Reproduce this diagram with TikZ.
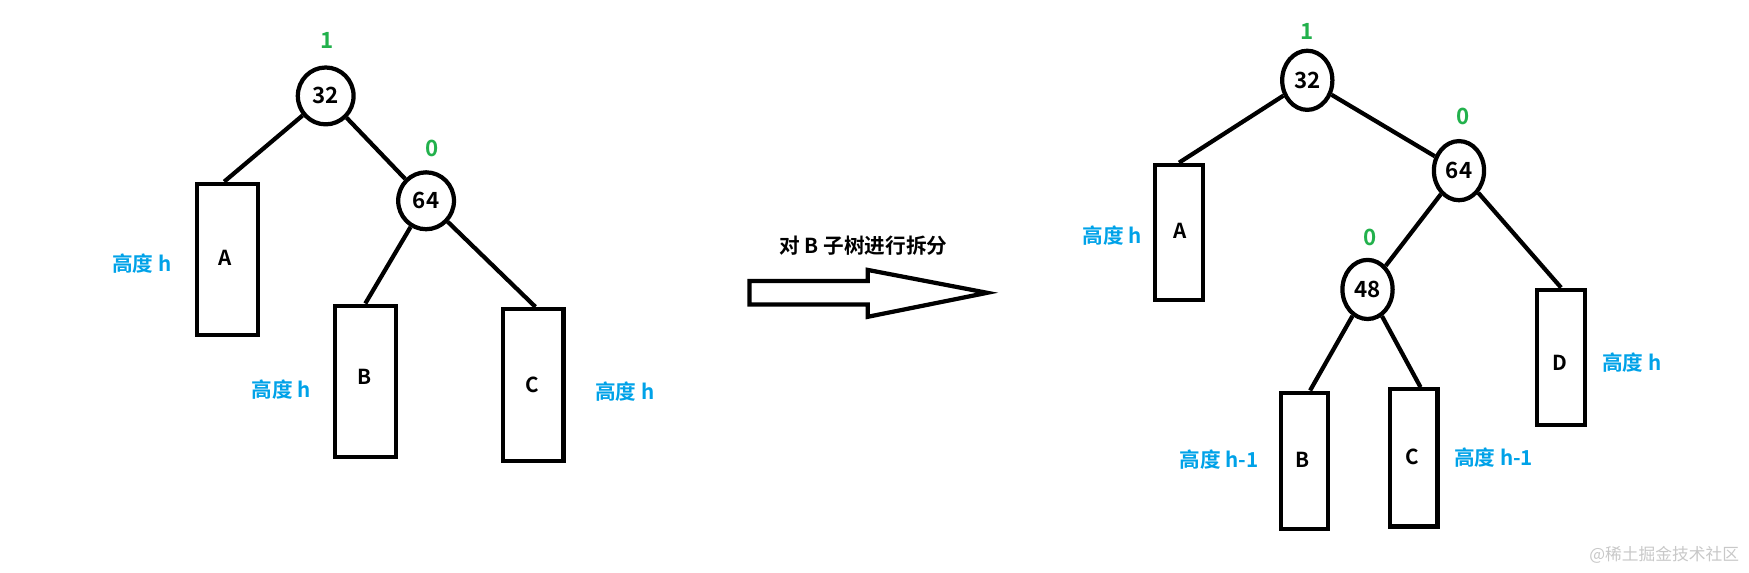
\documentclass[tikz,border=0pt]{standalone}
\usepackage{fontspec}
\setmainfont{Noto Sans CJK SC}[BoldFont={Noto Sans CJK SC Bold}]
\usetikzlibrary{shapes.geometric}
\definecolor{pgreen}{HTML}{22B14C}
\definecolor{pblue}{HTML}{00A2E8}
\definecolor{wgray}{HTML}{C8C8C8}
\begin{document}
\begin{tikzpicture}[x=1pt,y=-1pt,
  every node/.style={font=\bfseries\fontsize{18.5}{20}\selectfont},
  bnode/.style={draw,line width=3.8pt,ellipse,inner sep=0pt,font=\bfseries\fontsize{20}{22}\selectfont},
  sub/.style={draw,line width=3.8pt,inner sep=0pt},
  edge/.style={line width=3.8pt},
  bal/.style={text=pgreen,font=\bfseries\fontsize{20}{22}\selectfont},
  hgt/.style={text=pblue}]
\useasboundingbox (0,0) rectangle (1568,513);
% left tree
\node[bnode,minimum width=50pt,minimum height=51pt] (l32) at (292,86) {32};
\node[bnode,minimum width=50pt,minimum height=51pt] (l64) at (382,180) {64};
\node[bal] (l1) at (293,36) {1};
\node[bal] (l0) at (387,133) {0};
\node[sub,minimum width=54.5pt,minimum height=135.5pt] (lA) at (204,232.5) {};
\node[sub,minimum width=55pt,minimum height=136pt] (lB) at (327.5,342) {};
\node[sub,minimum width=54.5pt,minimum height=136pt] (lC) at (478,345) {};
\node (lAt) at (202,231) {A};
\node (lBt) at (327,338) {B};
\node (lCt) at (477,345) {C};
\node[hgt] (lhA) at (127,236) {高度 h};
\node[hgt] (lhB) at (252,349) {高度 h};
\node[hgt] (lhC) at (560,351) {高度 h};
\draw[edge] (l32) -- ([xshift=-3pt]lA.north);
\draw[edge] (l32) -- (l64);
\draw[edge] (l64) -- (lB.north);
\draw[edge] (l64) -- ([xshift=2pt]lC.north);
% arrow
\node (title) at (774,220) {对 B 子树进行拆分};
\coordinate (arrTail) at (672,262);
\coordinate (arrTip) at (885,262.5);
\draw[line width=3.8pt,line join=miter] (arrTail|-0,252) -- (778,252) -- (778,242) -- (arrTip) -- (778,284) -- (778,273) -- (arrTail|-0,273) -- cycle;
% right tree
\node[bnode,minimum width=45pt,minimum height=53pt] (r32) at (1172,72) {32};
\node[bnode,minimum width=45pt,minimum height=53pt] (r64) at (1308,153) {64};
\node[bnode,minimum width=45pt,minimum height=53pt] (r48) at (1226,259.5) {48};
\node[bal] (r1) at (1172,28) {1};
\node[bal] (r0a) at (1312,104) {0};
\node[bal] (r0b) at (1228,213) {0};
\node[sub,minimum width=42.5pt,minimum height=121.5pt] (rA) at (1057,208.5) {};
\node[sub,minimum width=42.5pt,minimum height=121.5pt] (rD) at (1399.5,320.5) {};
\node[sub,minimum width=42.5pt,minimum height=122pt] (rB) at (1169.5,413) {};
\node[sub,minimum width=42.5pt,minimum height=123pt] (rC) at (1267.5,410.5) {};
\node (rAt) at (1058,207) {A};
\node (rDt) at (1398,325) {D};
\node (rBt) at (1168,412) {B};
\node (rCt) at (1266,410) {C};
\node[hgt] (rhA) at (997,211) {高度 h};
\node[hgt] (rhD) at (1463,325) {高度 h};
\node[hgt] (rhB) at (1093,412) {高度 h-1};
\node[hgt] (rhC) at (1339,410) {高度 h-1};
\draw[edge] (r32) -- (rA.north);
\draw[edge] (r32) -- (r64);
\draw[edge] (r64) -- (r48);
\draw[edge] (r64) -- (rD.north);
\draw[edge] (r48) -- ([xshift=5pt]rB.north);
\draw[edge] (r48) -- ([xshift=6pt]rC.north);
% watermark
\node[font=\fontsize{15}{17}\selectfont,text=wgray] (wm) at (1492,497) {@稀土掘金技术社区};
\end{tikzpicture}
\end{document}
